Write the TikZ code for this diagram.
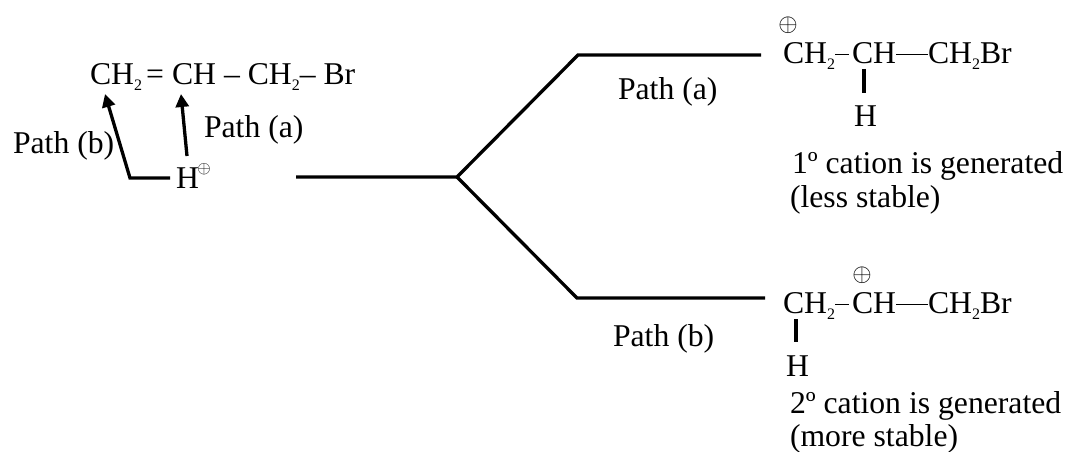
\documentclass[tikz,border=0pt]{standalone}
\usepackage{fontspec}
\usepackage{amsmath}
\setmainfont{Liberation Serif}
\newcommand{\chemsub}[1]{\raisebox{-0.2em}{\fontsize{16}{16}\selectfont #1}}
\newcommand{\bondrule}[1]{\rule[0.26em]{#1}{0.05em}}
\tikzstyle{chem}=[anchor=base west, inner sep=0, outer sep=0, yshift=-0.5pt]
\tikzstyle{plus}=[anchor=center, inner sep=0, outer sep=0, font=\fontsize{29}{29}\selectfont]
\tikzstyle{splus}=[plus, font=\fontsize{19}{19}\selectfont]
\tikzstyle{branch}=[line width=3.3pt, line join=miter]
\tikzstyle{attack}=[line width=3.3pt, line join=miter, -{Triangle[length=13pt, width=13pt]}]
\tikzstyle{scheme}=[x=1pt, y=-1pt, font=\fontsize{31.7}{32}\selectfont,
                    % Same text position for every label.
                    every node/.append style={text depth=0pt}]
\usetikzlibrary{arrows.meta}

\begin{document}
\begin{tikzpicture}[scheme]
        \useasboundingbox (0, 0) rectangle (1068, 452);
        % Reactant.
        \node[chem] (CHa) at (90, 84) {CH\chemsub{2}};
        \node[chem] (dbl) at (146, 84) {=};
        \node[chem] (CHb) at (172, 84) {CH};
        \node[chem] (rest) at (224, 84) {– CH\chemsub{2}– Br};
        \node[chem] (Hplus) at (176, 188) {H};
        \node[splus] (Hcharge) at (204, 168) {$\oplus$};
        \node[chem] (labelb) at (13, 153) {Path (b)};
        \node[chem] (labela) at (204, 137) {Path (a)};
        \coordinate (Hleft) at (170, 178);
        \coordinate (corner) at (130, 178);
        \coordinate (tipb) at (105, 94);
        \coordinate (tipa) at (181, 94);
        \coordinate (starta) at (187, 156);
        \draw[attack] (Hleft) -- (corner) -- (tipb);
        \draw[attack] (starta) -- (tipa);
        % Branches.
        \coordinate (start) at (296, 177);
        \coordinate (fork) at (457, 177);
        \coordinate (upper) at (578, 55);
        \coordinate (upperend) at (761, 55);
        \coordinate (lower) at (577, 298);
        \coordinate (lowerend) at (765, 298);
        \draw[branch] (start) -- (fork) -- (upper) -- (upperend);
        \draw[branch] (fork) -- (lower) -- (lowerend);
        \node[chem] (patha) at (618, 99) {Path (a)};
        \node[chem] (pathb) at (613, 346) {Path (b)};
        % Primary cation.
        \node[chem] (topCH) at (783, 63) {CH\chemsub{2}\bondrule{14pt}};
        \node[chem] (topmid) at (852, 63) {CH\bondrule{32pt}};
        \node[chem] (topend) at (928, 63) {CH\chemsub{2}Br};
        \node[plus] (topcharge) at (788, 24) {$\oplus$};
        \node[chem] (topH) at (854, 126) {H};
        \coordinate (topbondA) at (864, 69);
        \coordinate (topbondB) at (864, 93);
        \draw[branch] (topbondA) -- (topbondB);
        \node[chem] (topnote) at (792, 173) {1º cation is generated};
        \node[chem] (topstable) at (790, 207) {(less stable)};
        % Secondary cation.
        \node[chem] (botCH) at (783, 313) {CH\chemsub{2}\bondrule{14pt}};
        \node[chem] (botmid) at (852, 313) {CH\bondrule{32pt}};
        \node[chem] (botend) at (928, 313) {CH\chemsub{2}Br};
        \node[plus] (botcharge) at (862, 274) {$\oplus$};
        \node[chem] (botH) at (786, 376) {H};
        \coordinate (botbondA) at (796, 319);
        \coordinate (botbondB) at (796, 342);
        \draw[branch] (botbondA) -- (botbondB);
        \node[chem] (botnote) at (790, 413) {2º cation is generated};
        \node[chem] (botstable) at (790, 446) {(more stable)};
    \end{tikzpicture}
\end{document}
